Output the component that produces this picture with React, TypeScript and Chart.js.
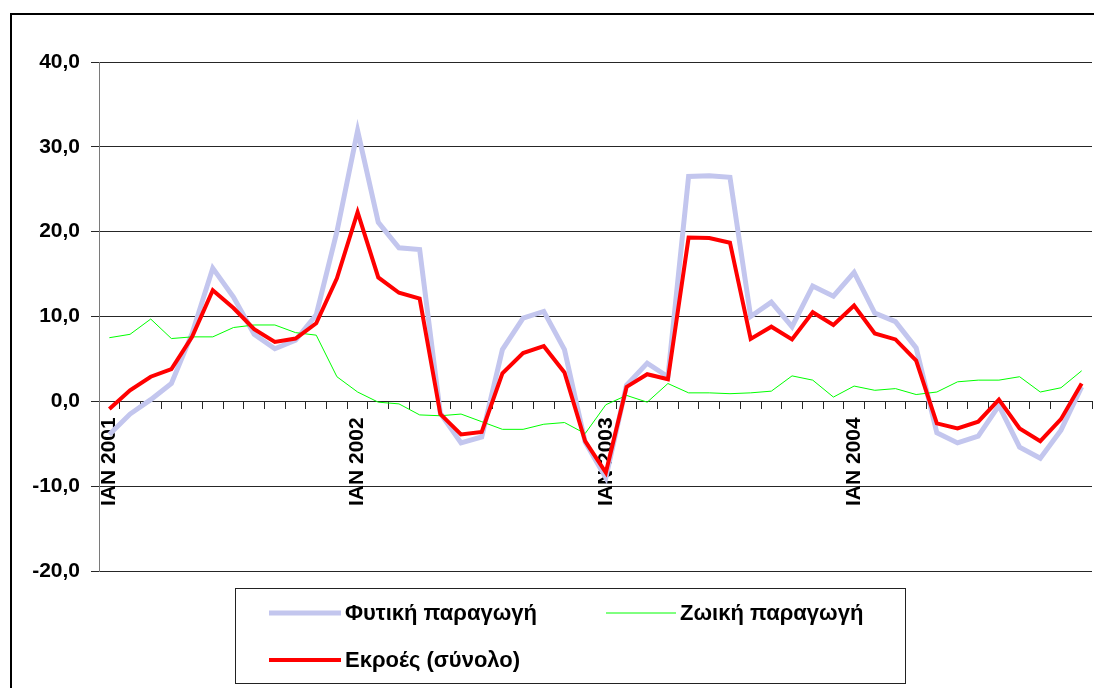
import React, { useEffect, useRef } from 'react';
import { Chart, registerables } from 'chart.js';

Chart.register(...registerables);

const FONT = '"Liberation Sans", Arial, Helvetica, sans-serif';

// ---- data ----
const monthNames = ['ΙΑΝ', 'ΦΕΒ', 'ΜΑΡ', 'ΑΠΡ', 'ΜΑΪ', 'ΙΟΥΝ', 'ΙΟΥΛ', 'ΑΥΓ', 'ΣΕΠ', 'ΟΚΤ', 'ΝΟΕ', 'ΔΕΚ'];
const years = [2001, 2002, 2003, 2004];
const categories = years.flatMap((y) => monthNames.map((m) => `${m} ${y}`));

const yMin = -20;
const yMax = 40;
const yStep = 10;

const plantLabel = 'Φυτική παραγωγή';
const plantValues = [
  -3.9, -1.5, 0.2, 2.1, 8.0, 15.7, 12.3, 7.9, 6.2, 7.2, 10.2, 20.0,
  31.9, 21.1, 18.1, 17.9, -1.4, -4.9, -4.2, 6.1, 9.8, 10.6, 6.1, -4.8,
  -9.0, 1.9, 4.5, 2.9, 26.5, 26.6, 26.4, 10.0, 11.7, 8.8, 13.6, 12.4,
  15.2, 10.4, 9.4, 6.3, -3.7, -4.9, -4.1, -0.5, -5.4, -6.7, -3.4, 1.7,
];

const livestockLabel = 'Ζωική παραγωγή';
const livestockValues = [
  7.5, 7.9, 9.7, 7.4, 7.6, 7.6, 8.7, 9.0, 9.0, 8.1, 7.8, 2.9,
  1.1, -0.1, -0.3, -1.6, -1.7, -1.5, -2.4, -3.3, -3.3, -2.7, -2.5, -3.8,
  -0.4, 0.7, -0.1, 2.1, 1.0, 1.0, 0.9, 1.0, 1.2, 3.0, 2.5, 0.5,
  1.8, 1.3, 1.5, 0.8, 1.1, 2.3, 2.5, 2.5, 2.9, 1.1, 1.6, 3.6,
];

const totalLabel = 'Εκροές (σύνολο)';
const totalValues = [
  -0.9, 1.3, 2.9, 3.8, 7.6, 13.1, 11.0, 8.5, 7.0, 7.4, 9.2, 14.5,
  22.3, 14.6, 12.8, 12.1, -1.5, -3.9, -3.6, 3.3, 5.7, 6.5, 3.4, -4.7,
  -8.4, 1.7, 3.2, 2.6, 19.3, 19.25, 18.7, 7.35, 8.8, 7.3, 10.5, 9.0,
  11.3, 8.0, 7.3, 4.8, -2.6, -3.2, -2.4, 0.2, -3.2, -4.7, -2.1, 2.1,
];

// ---- styles ----
const plantColor = '#C3C6EE';
const livestockColor = '#00FF00';
const totalColor = '#FF0000';
const gridColor = '#262626';

const W = 1094;
const H = 688;

const decorPlugin = {
  id: 'decor',
  beforeDraw(chart: any) {
    const ctx = chart.ctx;
    ctx.save();
    ctx.fillStyle = '#ffffff';
    ctx.fillRect(0, 0, W, H);
    ctx.strokeStyle = '#000000';
    ctx.lineWidth = 2;
    ctx.beginPath();
    ctx.moveTo(11, H + 5);
    ctx.lineTo(11, 14);
    ctx.lineTo(W + 5, 14);
    ctx.stroke();
    ctx.restore();
  },
  afterDraw(chart: any) {
    const ctx = chart.ctx;
    const ds = chart.data.datasets;
    ctx.save();
    // legend box
    ctx.strokeStyle = '#222222';
    ctx.lineWidth = 1;
    ctx.strokeRect(235.5, 588.5, 670, 95);
    const items = [
      { i: 0, x1: 269, x2: 341, tx: 345, y: 613 },
      { i: 1, x1: 606, x2: 676, tx: 680, y: 613 },
      { i: 2, x1: 269, x2: 341, tx: 345, y: 660 },
    ];
    ctx.font = `bold 22px ${FONT}`;
    ctx.textBaseline = 'middle';
    ctx.textAlign = 'left';
    for (const it of items) {
      const d = ds[it.i];
      ctx.strokeStyle = d.borderColor;
      ctx.lineWidth = d.borderWidth;
      ctx.beginPath();
      ctx.moveTo(it.x1, it.y);
      ctx.lineTo(it.x2, it.y);
      ctx.stroke();
      ctx.fillStyle = '#000000';
      ctx.fillText(d.label, it.tx, it.y + 1);
    }
    ctx.restore();
  },
};

export default function App() {
  const ref = useRef<HTMLCanvasElement | null>(null);

  useEffect(() => {
    document.body.style.margin = '0';
    document.body.style.overflow = 'hidden';
    const canvas = ref.current;
    if (!canvas) return;
    const chart = new Chart(canvas, {
      type: 'line',
      data: {
        labels: categories,
        datasets: [
          {
            label: plantLabel,
            data: plantValues,
            borderColor: plantColor,
            borderWidth: 5,
            pointRadius: 0,
            tension: 0,
            order: 2,
          },
          {
            label: livestockLabel,
            data: livestockValues,
            borderColor: livestockColor,
            borderWidth: 1,
            pointRadius: 0,
            tension: 0,
            order: 1,
          },
          {
            label: totalLabel,
            data: totalValues,
            borderColor: totalColor,
            borderWidth: 4,
            pointRadius: 0,
            tension: 0,
            order: 0,
          },
        ],
      },
      options: {
        responsive: false,
        animation: false,
        layout: { padding: { left: 0, top: 62, right: 2, bottom: 117 } },
        plugins: {
          legend: { display: false },
          tooltip: { enabled: false },
          title: { display: false },
        },
        scales: {
          x: {
            type: 'category',
            position: { y: 0 },
            offset: true,
            afterFit: (scale: any) => {
              scale.paddingLeft = 0;
              scale.paddingRight = 0;
            },
            grid: {
              display: true,
              offset: true,
              drawOnChartArea: false,
              drawTicks: true,
              tickLength: 7,
              color: gridColor,
            },
            border: { display: true, color: gridColor, width: 1 },
            ticks: {
              autoSkip: false,
              minRotation: 90,
              maxRotation: 90,
              padding: 9,
              color: '#000000',
              font: { family: FONT, size: 21, weight: 'bold' },
              callback: function (value: any, index: number) {
                return index % 12 === 0 ? categories[index] : '';
              },
            },
          },
          y: {
            type: 'linear',
            min: yMin,
            max: yMax,
            afterFit: (scale: any) => {
              scale.width = 99;
              scale.paddingTop = 0;
              scale.paddingBottom = 0;
            },
            grid: {
              display: true,
              drawTicks: true,
              tickLength: 8,
              color: gridColor,
              lineWidth: 1,
            },
            border: { display: true, color: '#7a7a7a', width: 1 },
            ticks: {
              stepSize: yStep,
              padding: 11,
              color: '#000000',
              font: { family: FONT, size: 21, weight: 'bold' },
              callback: (v: any) => Number(v).toFixed(1).replace('.', ','),
            },
          },
        },
      },
      plugins: [decorPlugin],
    } as any);
    return () => chart.destroy();
  }, []);

  return (
    <div style={{ width: W, height: H, position: 'relative' }}>
      <canvas ref={ref} width={W} height={H} style={{ display: 'block' }} />
    </div>
  );
}
